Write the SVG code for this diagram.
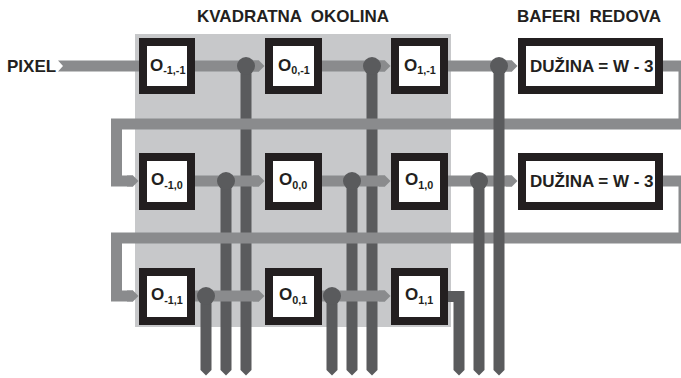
<svg xmlns="http://www.w3.org/2000/svg" width="681" height="378" viewBox="0 0 681 378">
<style>
text{font-family:"Liberation Sans",Arial,sans-serif;font-weight:bold;fill:#231f20}
.t{font-size:17px;word-spacing:4.500px}
.o{font-size:17px}
.s{font-size:10.800px}
.d{font-size:17px}
.box{fill:#fff;stroke:#231f20;stroke-width:8}
.lt{fill:none;stroke:#8a8b8d;stroke-width:11}
.dk{fill:none;stroke:#5a5b5d;stroke-width:11}
.ltf{fill:#8a8b8d}
.dkf{fill:#5a5b5d}
</style>
<defs>
<path id="down" class="dkf" d="M-5.500 -6V0L0 5.500 5.500 0V-6Z"/>
<path id="right" class="ltf" d="M-6 -5.500H0L5.500 0 0 5.500H-6Z"/>
</defs>
<rect x="135" y="34" width="316" height="293" fill="#c7c8ca"/>
<g id="connectors">
<path class="dk" d="M246 66V364M372 66V364M226 181V364M352 181V364M206 296V364M332 296V364"/>
<path class="lt" d="M684 66H663M684 66V124H116.500V181H133M684 181H663M684 181V238H116.500V296H133"/>
<path class="ltf" d="M58 60.500H139V71.500H58L63 66Z"/>
<path class="lt" d="M195 66H259M322 66H385M448 66H512M195 181H259M322 181H385M448 181H512M195 296H259M322 296H385"/>
<path class="dk" d="M448 296.500H459V364M479 181V364M499 66V364"/>
<use href="#right" x="133" y="181"/><use href="#right" x="133" y="296"/>
<use href="#right" x="259" y="66"/><use href="#right" x="385" y="66"/><use href="#right" x="512" y="66"/>
<use href="#right" x="259" y="181"/><use href="#right" x="385" y="181"/><use href="#right" x="512" y="181"/>
<use href="#right" x="259" y="296"/><use href="#right" x="385" y="296"/>
<use href="#down" x="206" y="370"/><use href="#down" x="226" y="370"/><use href="#down" x="246" y="370"/>
<use href="#down" x="332" y="370"/><use href="#down" x="352" y="370"/><use href="#down" x="372" y="370"/>
<use href="#down" x="459" y="370"/><use href="#down" x="479" y="370"/><use href="#down" x="499" y="370"/>
<g class="dkf"><circle cx="246" cy="66" r="9"/><circle cx="372" cy="66" r="9"/><circle cx="499" cy="66" r="9"/><circle cx="226" cy="181" r="9"/><circle cx="352" cy="181" r="9"/><circle cx="479" cy="181" r="9"/><circle cx="206" cy="296" r="9"/><circle cx="332" cy="296" r="9"/></g>
</g>
<text id="title-window" class="t" x="197" y="22">KVADRATNA OKOLINA</text>
<text id="title-buffers" class="t" x="517" y="22">BAFERI REDOVA</text>
<text id="label-pixel" x="7" y="71.500" style="font-size:17px">PIXEL</text>
<g id="o-1-1"><rect class="box" x="143" y="42" width="48" height="48"/><text class="o" x="150" y="70.500">O<tspan class="s" dy="3.500">-1,-1</tspan></text></g>
<g id="o0-1"><rect class="box" x="269" y="42" width="49" height="48"/><text class="o" x="278" y="70.500">O<tspan class="s" dy="3.500">0,-1</tspan></text></g>
<g id="o1-1"><rect class="box" x="395" y="42" width="49" height="48"/><text class="o" x="404" y="70.500">O<tspan class="s" dy="3.500">1,-1</tspan></text></g>
<g id="buffer1"><rect class="box" x="522" y="42" width="137" height="48"/><text class="d" x="530" y="72">DUŽINA = W - 3</text></g>
<g id="o-10"><rect class="box" x="143" y="157" width="48" height="49"/><text class="o" x="151" y="185">O<tspan class="s" dy="3.500">-1,0</tspan></text></g>
<g id="o00"><rect class="box" x="269" y="157" width="49" height="49"/><text class="o" x="279" y="185">O<tspan class="s" dy="3.500">0,0</tspan></text></g>
<g id="o10"><rect class="box" x="395" y="157" width="49" height="49"/><text class="o" x="405" y="185">O<tspan class="s" dy="3.500">1,0</tspan></text></g>
<g id="buffer2"><rect class="box" x="522" y="157" width="137" height="49"/><text class="d" x="530" y="187">DUŽINA = W - 3</text></g>
<g id="o-11"><rect class="box" x="143" y="272" width="48" height="49"/><text class="o" x="151" y="300">O<tspan class="s" dy="3.500">-1,1</tspan></text></g>
<g id="o01"><rect class="box" x="269" y="272" width="49" height="49"/><text class="o" x="279" y="300">O<tspan class="s" dy="3.500">0,1</tspan></text></g>
<g id="o11"><rect class="box" x="395" y="272" width="49" height="49"/><text class="o" x="405" y="300">O<tspan class="s" dy="3.500">1,1</tspan></text></g>
</svg>
